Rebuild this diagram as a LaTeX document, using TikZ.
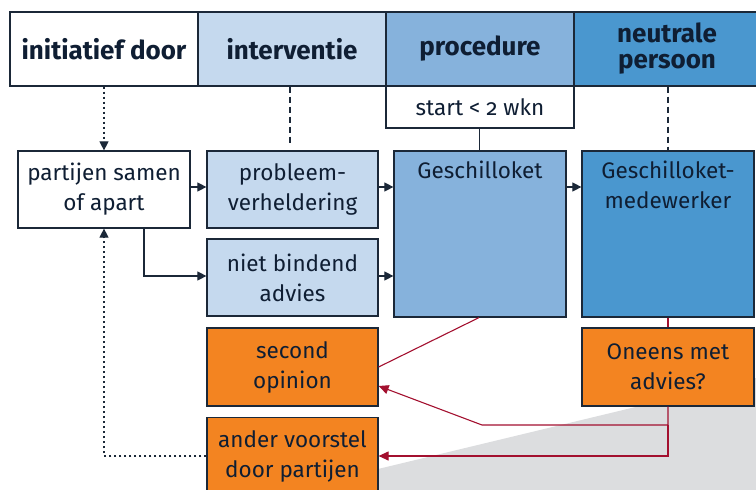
\documentclass[tikz,border=0pt]{standalone}
\usepackage{fontspec}
\setmainfont{Fira Sans}[Numbers=OldStyle]
\usetikzlibrary{arrows.meta,calc}
\definecolor{lblue}{HTML}{C5D9EE}
\definecolor{mblue}{HTML}{86B2DC}
\definecolor{dblue}{HTML}{4A97CF}
\definecolor{orng}{HTML}{F38421}
\definecolor{bord}{HTML}{1B2838}
\definecolor{txt}{HTML}{0F1E33}
\definecolor{redl}{HTML}{A3102F}
\definecolor{grayf}{HTML}{DCDDDF}
\newcommand{\boxfont}{\fontsize{22.5}{30}\selectfont}
\tikzset{
  base/.style={draw=bord, line width=1.2pt, text=txt, align=center, inner sep=0pt,
    font=\boxfont},
  hdr/.style={base, minimum height=74pt, font=\fontsize{26}{26}\selectfont\bfseries},
  box/.style={base, minimum width=171pt, minimum height=77pt},
  tall/.style={base, minimum width=172pt, minimum height=166pt},
  blk/.style={draw=bord, line width=1.1pt, -{Triangle[length=9pt,width=9pt]}},
  redarr/.style={draw=redl, line width=1.1pt},
  dotl/.style={draw=bord, line width=1.1pt, dash pattern=on 2.2pt off 2.8pt},
  dashl/.style={draw=bord, line width=1.1pt, dash pattern=on 6pt off 4pt},
}
\begin{document}
\begin{tikzpicture}[x=1pt,y=-1pt]
\useasboundingbox (0,0) rectangle (756,490);
\fill[grayf] (378,469) -- (756,378) -- (756,495) -- (378,495) -- cycle;
% headers
\node[hdr, fill=white, minimum width=188pt] (h1) at (104,49) {initiatief door};
\node[hdr, fill=lblue, minimum width=188pt] (h2) at (292,49) {interventie};
\node[hdr, fill=mblue, minimum width=188pt] (h3) at (480,49) {procedure};
\node[hdr, fill=dblue, minimum width=186pt] (h4) at (667,49) {neutrale\\persoon};
\node[base, fill=white, minimum width=188pt, minimum height=42pt] (st) at (480,107) {start < 2 wkn};
% boxes
\node[box, fill=white, minimum width=172pt] (part) at (104,189.5) {partijen samen\\of apart};
\node[box, fill=lblue] (prob) at (292.5,189.5) {probleem-\\verheldering};
\node[box, fill=lblue] (niet) at (292.5,277.5) {niet bindend\\advies};
\node[tall, fill=mblue, label={[anchor=north, yshift=-7pt, text=txt, font=\boxfont]north:Geschilloket}] (gesch) at (480,234) {};
\node[tall, fill=dblue, label={[anchor=north, yshift=-7pt, text=txt, align=center, font=\boxfont]north:Geschilloket-\\medewerker}] (medew) at (668,234) {};
\node[box, fill=orng, minimum height=78pt] (sec) at (292.5,367) {second\\opinion};
\node[box, fill=orng, minimum width=172pt, minimum height=78pt] (one) at (668,367) {Oneens met\\advies?};
\node[box, fill=orng, minimum height=80pt, anchor=north] (and) at (292.5,417) {};
\node[text=txt, align=center, font=\boxfont] (andt) at (292.5,456) {ander voorstel\\door partijen};
% vertical header links
\draw[dotl, -{Triangle[length=9pt,width=9pt]}] (h1.south) -- (part.north);
\draw[dashl] (h2.south -| 290,0) -- (290,146);
\draw[draw=bord, line width=0.9pt] (st.south -| 479,0) -- (gesch.north -| 479,0);
\draw[dashl] (h4.south -| 668,0) -- (medew.north);
% black arrows
\draw[blk] (part.east |- 0,187) -- (prob.west |- 0,187);
\draw[blk] (prob.east |- 0,187) -- (gesch.west |- 0,187);
\draw[blk] (niet.east |- 0,276) -- (gesch.west |- 0,276);
\draw[blk] (part.south -| 144,0) -- (144,276) -- (niet.west |- 0,276);
\draw[blk] (gesch.east |- 0,187) -- (medew.west |- 0,187);
% red lines
\coordinate (r1) at (668,425);
\coordinate (r2) at (482,425);
\coordinate (r3) at (668,456);
\draw[redarr] (gesch.south -| 479,0) -- (sec.east);
\draw[redarr] (medew.south) -- (one.north);
\draw[redarr, -{Triangle[length=10pt,width=9pt]}] (one.south) -- (r1) -- (r2) -- (sec.east |- 0,386);
\draw[redarr, -{Triangle[length=10pt,width=9pt]}] (r1) -- (r3) -- (and.east |- 0,456);
% dotted return
\draw[dotl, -{Triangle[length=9pt,width=9pt]}] (and.west |- 0,456) -- (104,456) -- (part.south);
\end{tikzpicture}
\end{document}
